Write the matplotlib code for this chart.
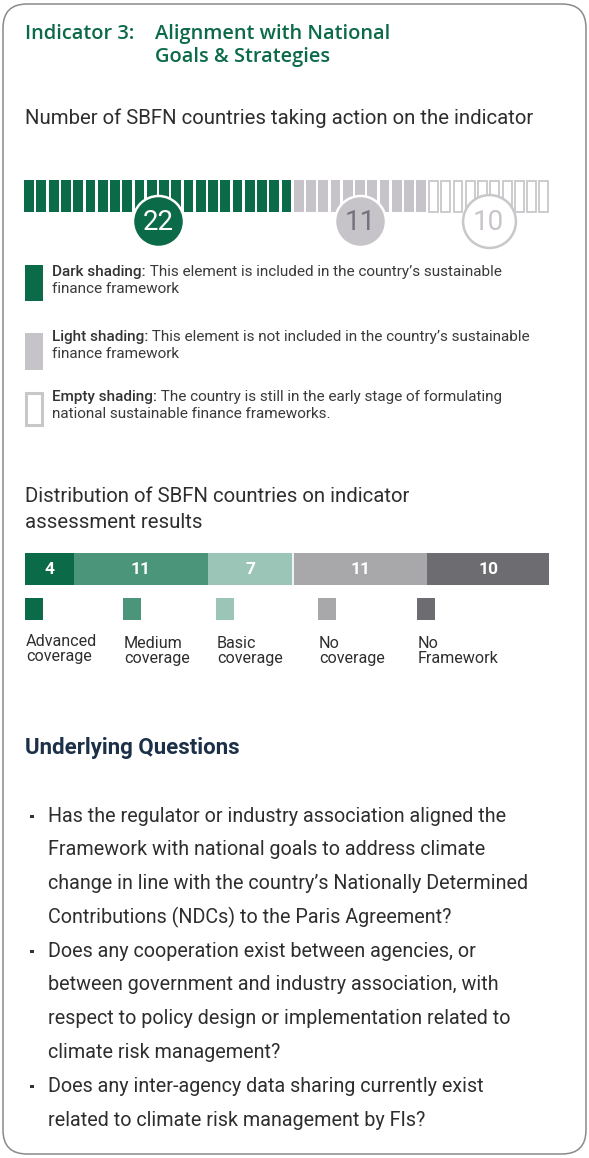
import numpy as np
import matplotlib
matplotlib.use("Agg")
from matplotlib import pyplot as plt
from matplotlib.patches import FancyBboxPatch, Rectangle

W, H = 589, 1158

# data
waffle_counts = [22, 11, 10]
waffle_labels = ["22", "11", "10"]
dist_labels = ["Advanced\ncoverage", "Medium\ncoverage", "Basic\ncoverage",
               "No\ncoverage", "No\nFramework"]
dist_values = [4, 11, 7, 11, 10]

GREEN = "#0b6a47"
LIGHT = "#c6c4c8"
EMPTY_EDGE = "#c9c7ca"
dist_colors = ["#0b6a47", "#4b967a", "#9bc5b7", "#a8a8ab", "#6d6d71"]
TEXT = "#2e2e2e"
NAVY = "#1c3148"

plt.rcParams["font.family"] = ["Roboto", "DejaVu Sans"]

fig = plt.figure(figsize=(W / 100, H / 100), dpi=100)


def px_axes(x0, y0, x1, y1):
    return fig.add_axes([x0 / W, 1 - y1 / H, (x1 - x0) / W, (y1 - y0) / H])


bg = px_axes(0, 0, W, H)
bg.set_xlim(0, W)
bg.set_ylim(H, 0)
bg.axis("off")

# card border
bg.add_patch(FancyBboxPatch((3, 4), W - 6, H - 8, boxstyle="round,pad=0,rounding_size=24",
                            fc="white", ec="#8a8a8a", lw=1.1))

# title
tkw = dict(color=GREEN, fontsize=14.4, family="Open Sans", weight="semibold", va="center")
bg.text(25, 34, "Indicator 3:", **tkw)
bg.text(155, 34, "Alignment with National", **tkw)
bg.text(155, 57, "Goals & Strategies", **tkw)

bg.text(25, 118, "Number of SBFN countries taking action on the indicator", color=TEXT,
        fontsize=14.7, va="center")

# waffle strip
wa = px_axes(23, 175, 550, 255)
total = sum(waffle_counts)
wa.set_xlim(-0.5, total - 0.5)
wa.set_ylim(80, 0)
wa.axis("off")
starts = np.cumsum([0] + waffle_counts[:-1])
xs = np.arange(total)
kind = np.repeat([0, 1, 2], waffle_counts)
wa.bar(xs[kind == 0], 32, bottom=5, width=0.8, color=GREEN, lw=0)
wa.bar(xs[kind == 1], 32, bottom=5, width=0.8, color=LIGHT, lw=0)
wa.bar(xs[kind == 2], 31, bottom=5.5, width=0.72, color="white", ec=EMPTY_EDGE, lw=1.3)

centers = starts + (np.array(waffle_counts) - 1) / 2
circ_face = [GREEN, LIGHT, "white"]
circ_edge = ["white", "white", EMPTY_EDGE]
circ_text = ["white", "#77727f", "#c9c3ca"]
circ_size = [1350, 1350, 1450]
for cx, lab, fc, ec, tc, s in zip(centers, waffle_labels, circ_face, circ_edge, circ_text, circ_size):
    wa.scatter([cx], [46], s=s, color=fc, edgecolors=ec, linewidths=1.8, zorder=3, clip_on=False)
    wa.text(cx, 47, lab, color=tc, fontsize=20, ha="center", va="center", zorder=4)

# shading legend
legend_rows = [
    (265, 301, GREEN, None, "Dark shading:", " This element is included in the country\u2019s sustainable",
     "finance framework", 272),
    (333, 370, LIGHT, None, "Light shading:", " This element is not included in the country\u2019s sustainable",
     "finance framework", 337),
    (392, 426, "white", EMPTY_EDGE, "Empty shading:", " The country is still in the early stage of formulating",
     "national sustainable finance frameworks.", 397),
]
for y0, y1, fc, ec, bold, rest, line2, ty in legend_rows:
    if ec is None:
        bg.add_patch(Rectangle((25, y0), 18, y1 - y0, fc=fc, ec="none"))
    else:
        bg.add_patch(Rectangle((26, y0 + 1), 16, y1 - y0 - 2, fc=fc, ec=ec, lw=2.2))
    t = bg.text(52, ty, bold, color="#333333", fontsize=11, weight="medium", va="center")
    bg.annotate(rest, xy=(1, 0.5), xycoords=t, va="center", ha="left",
                color="#3a3a3a", fontsize=11)
    bg.text(52, ty + 17, line2, color="#3a3a3a", fontsize=11, va="center")

# distribution
bg.text(25, 496, "Distribution of SBFN countries on indicator", color=TEXT, fontsize=14.7, va="center")
bg.text(25, 522, "assessment results", color=TEXT, fontsize=14.7, va="center")

da = px_axes(25, 553, 549, 585)
da.set_xlim(0, sum(dist_values))
da.set_ylim(-0.5, 0.5)
da.axis("off")
lefts = np.cumsum([0] + dist_values[:-1])
da.barh([0] * len(dist_values), dist_values, left=lefts, height=1, color=dist_colors, lw=0)
for l, v in zip(lefts, dist_values):
    da.text(l + v / 2, 0, str(v), color="white", fontsize=12.5, weight="bold",
            ha="center", va="center")
da.axvline(lefts[3], color="white", lw=1.2)

leg_x = [25, 123, 216, 318, 417]
leg_y = [649, 651, 651, 651, 651]
for x, yy, c, lab in zip(leg_x, leg_y, dist_colors, dist_labels):
    bg.add_patch(Rectangle((x, 598), 18, 22, fc=c, ec="none"))
    bg.text(x + 1, yy, lab, color=TEXT, fontsize=11.6, va="center", linespacing=1.05)

# underlying questions
bg.text(25, 748, "Underlying Questions", color=NAVY, fontsize=16, weight="bold", va="center")

questions = [
    ["Has the regulator or industry association aligned the",
     "Framework with national goals to address climate",
     "change in line with the country\u2019s Nationally Determined",
     "Contributions (NDCs) to the Paris Agreement?"],
    ["Does any cooperation exist between agencies, or",
     "between government and industry association, with",
     "respect to policy design or implementation related to",
     "climate risk management?"],
    ["Does any inter-agency data sharing currently exist",
     "related to climate risk management by FIs?"],
]
y = 816
step = 33.8
for q in questions:
    bg.add_patch(Rectangle((30, y - 1.5), 3.5, 3.5, fc="#333333", ec="none"))
    for line in q:
        bg.text(48, y, line, color=TEXT, fontsize=14.2, va="center")
        y += step

fig.savefig("out.png", dpi=100)
